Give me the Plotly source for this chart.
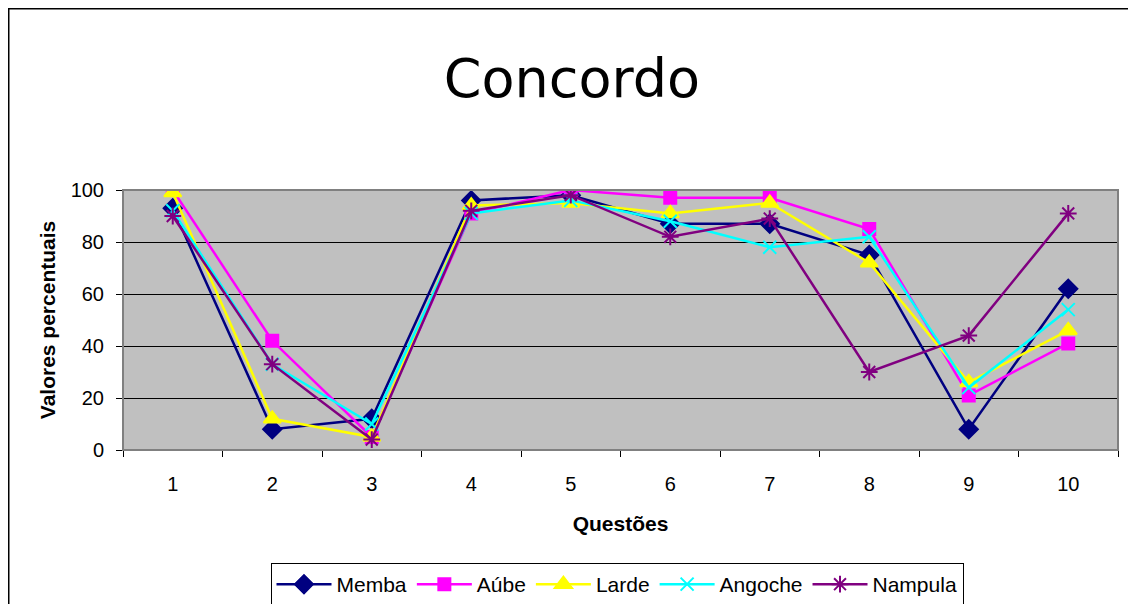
import plotly.graph_objects as go

questions = ["1", "2", "3", "4", "5", "6", "7", "8", "9", "10"]
memba   = [93, 8, 12, 96, 98, 87, 87, 75, 8, 62]
aube    = [100, 42, 5, 91, 100, 97, 97, 85, 21, 41]
larde   = [99, 12, 5, 94, 95, 91, 95, 72, 26, 46]
angoche = [92, 33, 10, 91, 96, 88, 78, 82, 24, 54]
nampula = [90, 33, 4, 92, 98, 82, 89, 30, 44, 91]

series = [
    ("Memba", memba, "#000080", "diamond", 14),
    ("Aúbe", aube, "#FF00FF", "square", 12),
    ("Larde", larde, "#FFFF00", "triangle-up", 15),
    ("Angoche", angoche, "#00FFFF", "x-thin-open", 13),
    ("Nampula", nampula, "#800080", "asterisk-open", 14),
]

fig = go.Figure()
for name, vals, color, sym, size in series:
    fig.add_trace(go.Scatter(
        x=questions, y=vals, name=name, mode="lines+markers",
        line=dict(color=color, width=2.5),
        marker=dict(symbol=sym, size=size, color=color,
                    line=dict(color=color, width=2)),
    ))

font_family = "Liberation Sans, Arial, sans-serif"

W, H = 1128, 596
L, R, T, B = 115, 18, 182, 154
PW, PH = W - L - R, H - T - B

fig.update_layout(
    width=W, height=H,
    margin=dict(l=L, r=R, t=T, b=B, autoexpand=False),
    paper_bgcolor="white",
    plot_bgcolor="#C0C0C0",
    font=dict(family=font_family, color="black", size=20),
    title=dict(text="Concordo", x=0.5, xanchor="center",
               y=1 - 70 / H, yanchor="middle",
               font=dict(size=54, family="DejaVu Sans, sans-serif", color="black")),
    showlegend=True,
    legend=dict(orientation="h", x=(609 - L) / PW, xanchor="center",
                y=(H - B - 555) / PH, yanchor="top",
                bordercolor="black", borderwidth=1, bgcolor="white",
                font=dict(size=21, family=font_family),
                itemwidth=55, tracegroupgap=0),
)

fig.update_xaxes(
    type="category", range=[-0.5, 9.5], tickson="boundaries",
    ticks="outside", ticklen=6, tickcolor="black",
    showline=True, linecolor="black", linewidth=1,
    showgrid=False, zeroline=False,
    tickfont=dict(size=20), ticklabelstandoff=16,
    title=dict(text="<b>Questões</b>", font=dict(size=21), standoff=22),
)
fig.update_yaxes(
    range=[0, 100], dtick=20, ticks="outside", ticklen=6, tickcolor="black",
    showline=True, linecolor="black", linewidth=1,
    showgrid=True, gridcolor="black", gridwidth=1, zeroline=False,
    tickfont=dict(size=20), ticklabelstandoff=8,
    title=dict(text="<b>Valores percentuais</b>", font=dict(size=21), standoff=9),
)

# gray border around plot area
fig.add_shape(type="rect", xref="paper", yref="paper", x0=0, x1=1, y0=0, y1=1,
              line=dict(color="#808080", width=2), fillcolor="rgba(0,0,0,0)")
# outer chart border (top and left visible)
fig.add_shape(type="rect", xref="paper", yref="paper",
              x0=(0.5 - L) / PW, x1=1.2, y0=-1.0, y1=(H - B - 0.5) / PH,
              line=dict(color="black", width=2), fillcolor="rgba(0,0,0,0)",
              layer="below")

fig.write_html("out.html")
